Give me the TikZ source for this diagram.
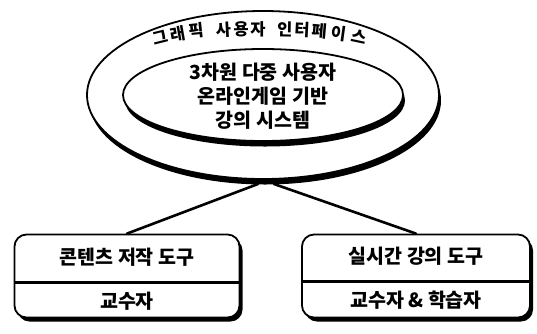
\documentclass[tikz,border=0pt]{standalone}
\usepackage{fontspec}
\setmainfont{Noto Sans CJK KR}[BoldFont={Noto Sans CJK KR Black}]
\usetikzlibrary{shapes.geometric,shadows}
\tikzset{
  ring/.style={ellipse, draw=black, fill=white, line width=1.8pt, inner sep=0pt,
    drop shadow={shadow xshift=2pt, shadow yshift=-5.5pt, fill=black, opacity=1}},
  toolbox/.style={rectangle, rounded corners=12pt, draw=black, fill=white, line width=1.8pt, inner sep=0pt,
    drop shadow={shadow xshift=3pt, shadow yshift=-4pt, fill=black, opacity=1}},
  lbl/.style={font=\bfseries\fontsize{19.5}{24}\selectfont, inner sep=0pt, align=center},
  arc/.style={font=\bfseries\fontsize{16.5}{18}\selectfont, inner sep=0pt},
  link/.style={line width=2.6pt, line cap=round},
  divider/.style={line width=3pt}
}
\begin{document}
\begin{tikzpicture}[x=1pt,y=-1pt]
\useasboundingbox (0,0) rectangle (537,333);
% ellipses
\node[ring, minimum width=352pt, minimum height=168pt] (outer) at (263,95) {};
\node[ring, minimum width=280pt, minimum height=92pt] (inner) at (263,95) {};
\node[lbl] (core) at (263,96) {3차원 다중 사용자\\온라인게임 기반\\강의 시스템};
% curved title
\foreach \ch/\px/\py/\rot [count=\i] in {그/160/38/14, 래/178/34/10, 픽/196/31/6,
    사/224/30/3, 용/241/29/1, 자/258/29/0,
    인/285/29/-1, 터/302/30/-3, 페/320/31/-5, 이/339/33/-8, 스/359/37/-12}
  \node[arc, rotate=\rot] (t\i) at (\px,\py) {\ch};
% links
\coordinate (lj) at (258,184);
\coordinate (rj) at (274,184);
% boxes
\node[toolbox, minimum width=225pt, minimum height=83pt] (lbox) at (127,276) {};
\node[toolbox, minimum width=228pt, minimum height=83pt] (rbox) at (416,276) {};
\draw[link] (lj) -- (lbox.north);
\draw[link] (rj) -- (rbox.north);
\coordinate (ld) at (127,282);
\coordinate (rd) at (416,281);
\draw[divider] (lbox.west |- ld) -- (lbox.east |- ld);
\draw[divider] (rbox.west |- rd) -- (rbox.east |- rd);
\node[lbl] (l1) at (127,257) {콘텐츠 저작 도구};
\node[lbl] (l2) at (127,301) {교수자};
\node[lbl] (r1) at (416,256) {실시간 강의 도구};
\node[lbl] (r2) at (416,300) {교수자 \& 학습자};
\end{tikzpicture}
\end{document}
